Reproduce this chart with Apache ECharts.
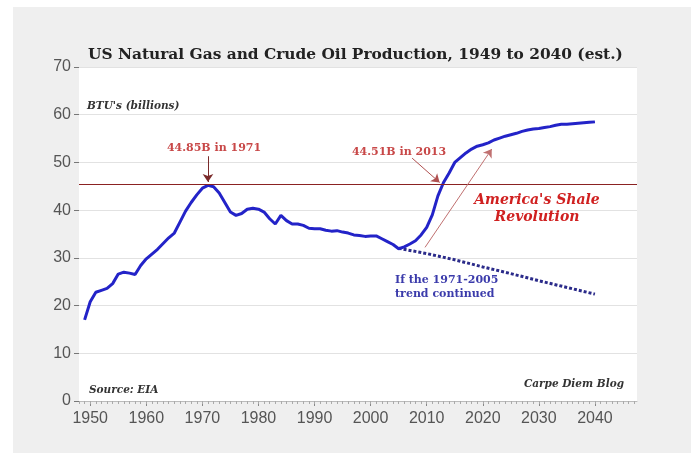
<!DOCTYPE html>
<html>
<head>
<meta charset="utf-8">
<script src="https://cdn.jsdelivr.net/npm/echarts@6/dist/echarts.min.js"></script>
<style>
html,body{margin:0;padding:0;background:#ffffff;}
#chart{width:691px;height:453px;}
</style>
</head>
<body>
<div id="chart"></div>
<script>
// ---- data ----
const years = [1949,1950,1951,1952,1953,1954,1955,1956,1957,1958,1959,1960,1961,1962,1963,1964,1965,1966,1967,1968,1969,1970,1971,1972,1973,1974,1975,1976,1977,1978,1979,1980,1981,1982,1983,1984,1985,1986,1987,1988,1989,1990,1991,1992,1993,1994,1995,1996,1997,1998,1999,2000,2001,2002,2003,2004,2005,2006,2007,2008,2009,2010,2011,2012,2013,2014,2015,2016,2017,2018,2019,2020,2021,2022,2023,2024,2025,2026,2027,2028,2029,2030,2031,2032,2033,2034,2035,2036,2037,2038,2039,2040];
const production = [17.0,20.8,22.8,23.2,23.6,24.6,26.6,27.0,26.8,26.5,28.4,29.8,30.8,31.8,33.0,34.2,35.2,37.5,39.8,41.6,43.2,44.6,45.2,44.9,43.6,41.6,39.6,38.9,39.3,40.2,40.4,40.2,39.6,38.2,37.1,38.9,37.8,37.1,37.1,36.8,36.2,36.1,36.1,35.8,35.6,35.7,35.4,35.2,34.8,34.7,34.5,34.6,34.6,34.0,33.4,32.8,31.9,32.3,32.9,33.6,34.8,36.4,39.0,43.0,45.8,47.8,50.0,51.0,52.0,52.8,53.4,53.7,54.1,54.7,55.1,55.5,55.8,56.1,56.5,56.8,57.0,57.1,57.3,57.5,57.8,58.0,58.0,58.1,58.2,58.3,58.4,58.5];
const trendYears = [2005,2010,2015,2020,2025,2030,2035,2040];
const trendValues = [32.0,30.9,29.6,28.1,26.7,25.2,23.8,22.4];
const xLabelYears = [1950,1960,1970,1980,1990,2000,2010,2020,2030,2040];
const peakLevel = 45.5;

// ---- build ----
const mainData = years.map((y,i)=>[y,production[i]]);
const trendData = trendYears.map((y,i)=>[y,trendValues[i]]);
const xMin = 1948, xMax = 2047.5;
const minorTicks = [];
for (let y = 1948; y <= 2047; y++) minorTicks.push(y);

const serif = "'DejaVu Serif', 'Liberation Serif', serif";
const sans = "'Liberation Sans', Arial, sans-serif";

const chart = echarts.init(document.getElementById('chart'), null, {renderer:'canvas'});
chart.setOption({
  animation:false,
  backgroundColor:'#ffffff',
  title:{
    text:'US Natural Gas and Crude Oil Production, 1949 to 2040 (est.)',
    left:83, top:42,
    textStyle:{fontFamily:serif, fontWeight:'bold', fontSize:15.4, color:'#222'}
  },
  graphic:[
    {type:'rect', z:-10, silent:true, shape:{x:13,y:7,width:678,height:446}, style:{fill:'#efefef'}},
    {type:'text', z:50, x:87, y:106, style:{text:"BTU's (billions)", font:"italic bold 10.5px "+serif, fill:'#333', verticalAlign:'middle'}},
    {type:'text', z:50, x:89, y:390, style:{text:'Source: EIA', font:"italic bold 10.5px "+serif, fill:'#333', verticalAlign:'middle'}},
    {type:'text', z:50, x:624, y:384, style:{text:'Carpe Diem Blog', font:"italic bold 10.5px "+serif, fill:'#333', align:'right', verticalAlign:'middle'}},
    {type:'text', z:50, x:214, y:148, style:{text:'44.85B in 1971', font:"bold 11px "+serif, fill:'#c84848', align:'center', verticalAlign:'middle'}},
    {type:'text', z:50, x:399, y:152, style:{text:'44.51B in 2013', font:"bold 11px "+serif, fill:'#c84848', align:'center', verticalAlign:'middle'}},
    {type:'text', z:50, x:537, y:200, style:{text:"America's Shale", font:"italic bold 14px "+serif, fill:'#d02020', align:'center', verticalAlign:'middle'}},
    {type:'text', z:50, x:537, y:217, style:{text:'Revolution', font:"italic bold 14px "+serif, fill:'#d02020', align:'center', verticalAlign:'middle'}},
    {type:'text', z:50, x:395, y:280, style:{text:'If the 1971-2005', font:"bold 11px "+serif, fill:'#3b3bab', align:'left', verticalAlign:'middle'}},
    {type:'text', z:50, x:395, y:294, style:{text:'trend continued', font:"bold 11px "+serif, fill:'#3b3bab', align:'left', verticalAlign:'middle'}}
  ],
  grid:{left:79, right:54, top:67, bottom:52, show:true, backgroundColor:'#ffffff', borderWidth:0},
  xAxis:[
    {
      type:'value', min:xMin, max:xMax,
      axisLine:{show:true, lineStyle:{color:'#bbbbbb', width:1}},
      axisTick:{show:true, length:5, customValues:xLabelYears, lineStyle:{color:'#888'}},
      axisLabel:{customValues:xLabelYears, formatter:(v)=>String(v), fontFamily:sans, fontSize:16, color:'#555', margin:10},
      splitLine:{show:false}
    },
    {
      type:'value', min:xMin, max:xMax, position:'bottom',
      axisLine:{show:false},
      axisTick:{show:true, length:3, customValues:minorTicks, lineStyle:{color:'#aaa'}},
      axisLabel:{show:false},
      splitLine:{show:false}
    }
  ],
  yAxis:{
    type:'value', min:0, max:70, interval:10,
    axisLine:{show:false},
    axisTick:{show:true, length:5, lineStyle:{color:'#777'}},
    axisLabel:{fontFamily:sans, fontSize:16, color:'#555', margin:8},
    splitLine:{show:true, lineStyle:{color:'#e2e2e2', width:1}}
  },
  series:[
    {
      type:'line', data:trendData, showSymbol:false, z:3,
      lineStyle:{color:'#2b2b8a', width:3, type:[3,2], cap:'butt'}
    },
    {
      type:'line', data:mainData, showSymbol:false, z:4,
      lineStyle:{color:'#2323c8', width:3},
      markLine:{
        silent:true, symbol:['none','arrow'], symbolSize:8, animation:false,
        label:{show:false},
        data:[
          [{coord:[xMin,peakLevel], symbol:'none', lineStyle:{color:'#8b2222', width:1.2, type:'solid'}},
           {coord:[xMax,peakLevel], symbol:'none'}],
          [{coord:[1971,51.3], lineStyle:{color:'#7a2a2a', width:1, type:'solid'}},
           {coord:[1971,45.9]}],
          [{coord:[2007.4,50.9], lineStyle:{color:'#b05050', width:1, type:'solid'}},
           {coord:[2012.3,45.8]}],
          [{coord:[2009.7,32.2], lineStyle:{color:'#c07070', width:1, type:'solid'}},
           {coord:[2021.6,52.8]}]
        ]
      }
    }
  ]
});
</script>
</body>
</html>
